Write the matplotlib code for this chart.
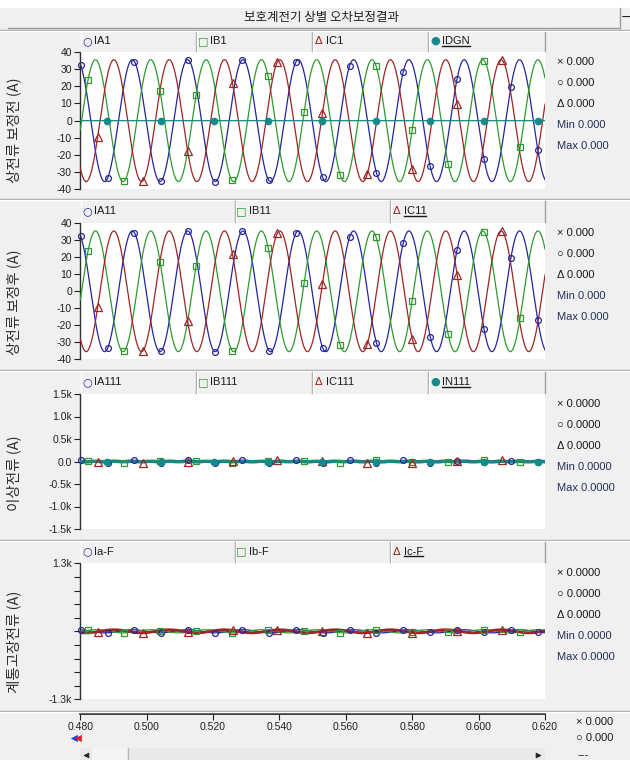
import numpy as np
import matplotlib
matplotlib.use('Agg')
import matplotlib.pyplot as plt
from matplotlib.lines import Line2D
from matplotlib.patches import Rectangle
from matplotlib.transforms import IdentityTransform

# ---------------- data ----------------
title_text = '보호계전기 상별 오차보정결과'
panel_ylabels = ['상전류 보정전 (A)', '상전류 보정후 (A)', '이상전류 (A)', '계통고장전류 (A)']
legend_names = [['IA1', 'IB1', 'IC1', 'IDGN'],
                ['IA11', 'IB11', 'IC11'],
                ['IA111', 'IB111', 'IC111', 'IN111'],
                ['Ia-F', 'Ib-F', 'Ic-F']]
# waveform parameters per series (amplitude in A)
amplitudes = [[35.5, 35.5, 35.5, 0.0],
              [35.5, 35.5, 35.5],
              [30.0, 30.0, 30.0, 0.0],
              [30.0, 30.0, 30.0]]
phase_deg = [0.0, -120.0, 120.0, 0.0]          # A, B, C, N
freq_hz = 60.0
ia_peak_time = 0.4790
# where the software puts the series markers (s)
marker_start = [0.48012, 0.48232, 0.48524, 0.48795]
marker_step = [0.00810, 0.01085, 0.01354, 0.01624]

x_range = (0.480, 0.620)
x_ticks = [0.480, 0.500, 0.520, 0.540, 0.560, 0.580, 0.600, 0.620]
y_limits = [(-40, 40), (-40, 40), (-1500, 1500), (-1300, 1300)]
y_ticks = [list(range(-40, 41, 10)), list(range(-40, 41, 10)),
           [-1500, -1000, -500, 0, 500, 1000, 1500],
           [-1300, -1040, -780, -520, -260, 0, 260, 520, 780, 1040, 1300]]
y_ticklabels = [[str(v) for v in range(-40, 41, 10)],
                [str(v) for v in range(-40, 41, 10)],
                ['-1.5k', '-1.0k', '-0.5k', '0.0', '0.5k', '1.0k', '1.5k'],
                ['-1.3k', '', '', '', '', '', '', '', '', '', '1.3k']]
stat_values = ['0.000', '0.000', '0.0000', '0.0000']
bottom_values = ['0.000', '0.000']

# ---------------- styles ----------------
series_colors = ['#25259c', '#2f9a2f', '#9c2525', '#148a8a']
series_markers = ['o', 's', '^', 'o']
marker_sizes = [4.2, 5.0, 5.5, 4.6]
legend_syms = ['○', '□', 'Δ', '●']
BG = '#f0f0f0'
plt.rcParams['font.family'] = ['Liberation Sans', 'Noto Sans CJK KR', 'DejaVu Sans']
KR = ['Noto Sans CJK KR', 'DejaVu Sans']
SYM = ['DejaVu Sans']

W, H = 630, 760
fig = plt.figure(figsize=(W / 100, H / 100), dpi=100)
fig.patch.set_facecolor(BG)


def fx(p):
    return p / W


def fy(p):
    return 1 - p / H


def rect(x0, y0, x1, y1, fc, ec='none', lw=0.0, z=0):
    fig.add_artist(Rectangle((fx(x0), fy(y1)), fx(x1) - fx(x0), fy(y0) - fy(y1),
                             transform=fig.transFigure, facecolor=fc,
                             edgecolor=ec, linewidth=lw, zorder=z))


def hline(y, x0, x1, color, lw=1.0, z=1):
    fig.add_artist(Line2D([fx(x0), fx(x1)], [fy(y), fy(y)], transform=fig.transFigure,
                          color=color, lw=lw, zorder=z))


def vline(x, y0, y1, color, lw=1.0, z=1):
    fig.add_artist(Line2D([fx(x), fx(x)], [fy(y0), fy(y1)], transform=fig.transFigure,
                          color=color, lw=lw, zorder=z))


def marker_at(x, y, m, color, ms):
    fig.add_artist(Line2D([fx(x)], [fy(y)], transform=fig.transFigure, marker=m,
                          ms=ms, mfc=color, mec=color, mew=0.5, linestyle='none', zorder=5))


# title band
rect(0, 0, 630, 8, 'white')
rect(8, 8, 619, 27, BG)
hline(27.5, 8, 619, '#9a9a9a')
vline(619.5, 8, 28, '#9a9a9a')
fig.text(fx(322), fy(17), title_text, family=KR, fontsize=9, ha='center', va='center',
         color='#202020')
fig.text(fx(626), fy(17), '−', fontsize=9, ha='center', va='center', color='#202020',
         family=SYM)

# panel geometry (pixels from top)
separators = [30, 199, 370, 540, 710.5]
plot_tb = [(52, 189.3), (223.3, 359.3), (394, 529), (563.3, 699.3)]
label_cy = [130, 302, 473, 642]
PX0, PX1 = 80.3, 545

for s in separators:
    hline(s, 0, 630, '#a0a0a0', lw=1.0)
    hline(s + 1, 0, 630, 'white', lw=1.0)

t = np.linspace(x_range[0], x_range[1], 3000)
underline_texts = []

for p in range(4):
    top, bot = plot_tb[p]
    ax = fig.add_axes([fx(PX0), fy(bot), fx(PX1) - fx(PX0), fy(top) - fy(bot)])
    ax.set_facecolor('white')
    for sp in ['top', 'right', 'bottom']:
        ax.spines[sp].set_visible(False)
    ax.spines['left'].set_color('#303030')
    ax.spines['left'].set_linewidth(1.0)
    ax.set_xlim(*x_range)
    ax.set_ylim(*y_limits[p])
    ax.set_xticks([])
    ax.set_yticks(y_ticks[p])
    ax.set_yticklabels(y_ticklabels[p])
    ax.tick_params(axis='y', direction='out', length=4, width=0.8, pad=2,
                   labelsize=7.5, colors='#202020')

    names = legend_names[p]
    for i, nm in enumerate(names):
        amp = amplitudes[p][i]
        y = amp * np.cos(2 * np.pi * freq_hz * (t - ia_peak_time) + np.deg2rad(phase_deg[i]))
        lw = 0.9
        if p >= 2 and i == len(names) - 1:
            lw = 2.0
        ax.plot(t, y, color=series_colors[i], lw=lw, zorder=2 + i, clip_on=True)
        tm = np.arange(marker_start[i], x_range[1] + 1e-9, marker_step[i])
        ym = amp * np.cos(2 * np.pi * freq_hz * (tm - ia_peak_time) + np.deg2rad(phase_deg[i]))
        filled = (i == 3)
        ax.plot(tm, ym, linestyle='none', marker=series_markers[i], ms=marker_sizes[i],
                mew=0.9, mec=series_colors[i],
                mfc=series_colors[i] if filled else 'none', zorder=10 + i, clip_on=False)

    # header boxes
    sep = separators[p]
    h0, h1 = sep + 1.5, top - 1.5
    edges = np.linspace(PX0, PX1, len(names) + 1)
    rect(PX0, h0, PX1, h1, BG)
    for k in range(len(names)):
        vline(edges[k] + 0.5, h0, h1, 'white')
        vline(edges[k + 1] - 0.5, h0, h1, '#a0a0a0')
        cy = (h0 + h1) / 2
        fig.text(fx(edges[k] + 6.5), fy(cy), legend_syms[k], family=SYM, fontsize=8,
                 color=series_colors[k], ha='center', va='center')
        txt = fig.text(fx(edges[k] + 13.5), fy(cy), names[k], fontsize=8, color='#1a1a1a',
                       ha='left', va='center')
        if k == len(names) - 1:
            underline_texts.append(txt)

    # y label
    fig.text(fx(14), fy(label_cy[p]), panel_ylabels[p], family=KR, fontsize=10.5,
             rotation=90, ha='center', va='center', color='#303030')

    # right side statistics
    val = stat_values[p]
    stats = [('×', val, '#1a1a1a'), ('○', val, '#1a1a1a'), ('Δ', val, '#1a1a1a'),
             ('Min', val, '#24305a'), ('Max', val, '#24305a')]
    for j, (sym, v, col) in enumerate(stats):
        yy = top + 10 + 21 * j
        fig.text(fx(557), fy(yy), sym + ' ' + v, fontsize=8, color=col, ha='left',
                 va='center', family=['Liberation Sans', 'DejaVu Sans'])

# bottom x axis
axx = fig.add_axes([fx(PX0), fy(713.5), fx(PX1) - fx(PX0), 0.0001])
axx.set_facecolor('none')
for sp in ['top', 'right', 'left']:
    axx.spines[sp].set_visible(False)
axx.spines['bottom'].set_color('#202020')
axx.spines['bottom'].set_linewidth(1.2)
axx.set_xlim(*x_range)
axx.set_xticks(x_ticks)
axx.set_xticklabels(['%.3f' % v for v in x_ticks])
axx.set_yticks([])
axx.tick_params(axis='x', direction='out', length=4, width=0.8, pad=2,
                labelsize=7.5, colors='#202020')

# position arrows (cursor handles)
marker_at(74, 738, '<', '#1f3fd0', 5)
marker_at(77.5, 738, '<', '#e02020', 5)

# scrollbar
rect(PX0, 748, PX1, 761, '#e9e9e9')
rect(92, 748, 128, 761, '#f4f4f4')
vline(128, 748, 761, '#b8b8b8')
marker_at(86, 754.5, '<', '#202020', 3.5)
marker_at(538, 754.5, '>', '#202020', 3.5)

# bottom-right readouts
fig.text(fx(576), fy(722), '× ' + bottom_values[0], fontsize=8, color='#1a1a1a', va='center',
         family=['Liberation Sans', 'DejaVu Sans'])
fig.text(fx(576), fy(738), '○ ' + bottom_values[1], fontsize=8, color='#1a1a1a', va='center',
         family=['Liberation Sans', 'DejaVu Sans'])
fig.text(fx(578), fy(755), '---', fontsize=8, color='#1a1a1a', va='center')

# underline last legend labels
fig.canvas.draw()
r = fig.canvas.get_renderer()
for txt in underline_texts:
    bb = txt.get_window_extent(r)
    fig.add_artist(Line2D([bb.x0, bb.x1], [bb.y0 + 0.5, bb.y0 + 0.5],
                          transform=IdentityTransform(), color='#1a1a1a', lw=1.0))

fig.savefig('out.png', dpi=100, facecolor=fig.get_facecolor())
